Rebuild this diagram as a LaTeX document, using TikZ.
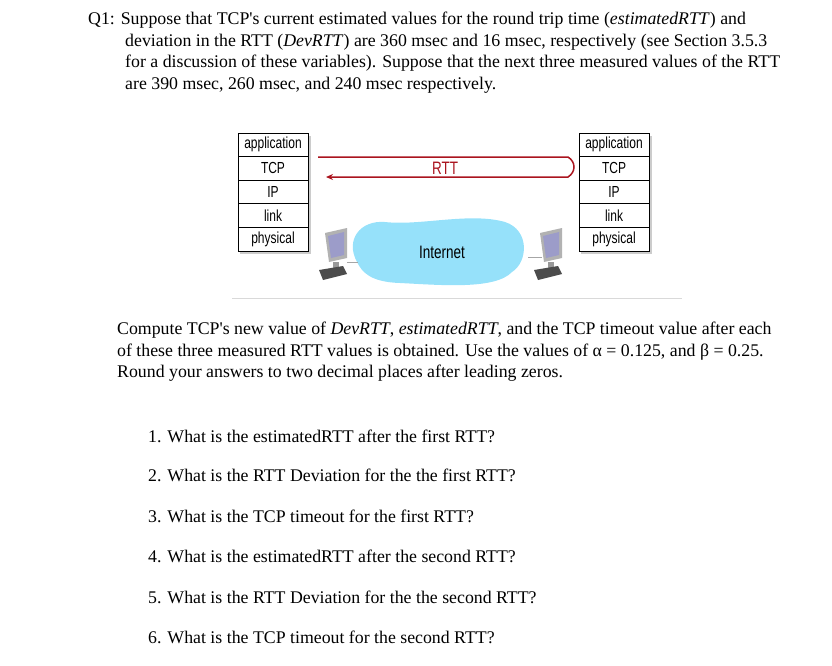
\documentclass[tikz,border=0pt]{standalone}
\usepackage{fontspec}
\setmainfont{Liberation Serif}
\newfontfamily\lsans{Liberation Sans}
\newfontfamily\nsans[FakeStretch=0.75]{Liberation Sans}
\usetikzlibrary{arrows.meta}
\definecolor{rttred}{RGB}{170,20,30}
\definecolor{cloudblue}{RGB}{150,225,250}
\tikzset{
  txt/.style={anchor=west,inner sep=0pt,font=\fontsize{17.8}{19}\selectfont},
  layer/.style={draw,thick,minimum width=70pt,minimum height=23.6pt,inner sep=0pt,font=\nsans\fontsize{16}{17}\selectfont},
}
\begin{document}
\begin{tikzpicture}[x=1pt,y=-1pt]
\useasboundingbox (0,0) rectangle (832,665);
\node[txt] (l1) at (88,20) {Q1: Suppose that TCP\textquotesingle s current estimated values for the round trip time (\textit{estimatedRTT}) and};
\node[txt] (l2) at (125,42) {deviation in the RTT (\textit{DevRTT}) are 360 msec and 16 msec, respectively (see Section 3.5.3};
\node[txt] (l3) at (125,63) {for a discussion of these variables). Suppose that the next three measured values of the RTT};
\node[txt] (l4) at (125,85) {are 390 msec, 260 msec, and 240 msec respectively.};
% stacks
\foreach \s/\x in {L/273,R/614}{
  \foreach \t [count=\i] in {application,TCP,IP,link,physical}{
    \node[layer,fill=white] (\s\i) at (\x,{133+23.6*(\i-0.5)}) {\t};
  }
}
\fill[gray!40] (309,136) rectangle (311,254);
\fill[gray!40] (240,252) rectangle (311,254);
\fill[gray!40] (650,136) rectangle (652,254);
\fill[gray!40] (581,252) rectangle (652,254);
% RTT arrow
\coordinate (a0) at (318,157);
\coordinate (a1) at (568,157);
\coordinate (a2) at (568,177);
\coordinate (a3) at (326,177);
\draw[rttred,line width=1.5pt,-{Stealth[length=7pt,width=6pt]}] (a0) -- (a1) .. controls (576,162) and (576,172) .. (a2) -- (a3);
\node[rttred,font=\nsans\fontsize{18}{19}\selectfont] (rtt) at (445,168) {RTT};
% cloud
\fill[cloudblue] (357,262) .. controls (345,240) and (360,220) .. (385,222)
  .. controls (420,226) and (470,212) .. (505,222)
  .. controls (530,230) and (528,262) .. (512,272)
  .. controls (495,290) and (440,285) .. (400,283)
  .. controls (370,282) and (362,272) .. (357,262) -- cycle;
\node[font=\nsans\fontsize{18}{19}\selectfont] (inet) at (442,252) {Internet};
% computers
\foreach \s/\cx in {A/335,B/550}{
  \fill[gray!60] (\cx-10,233) -- (\cx+12,228) -- (\cx+12,258) -- (\cx-6,262) -- cycle;
  \fill[blue!30!gray!60] (\cx-7,236) -- (\cx+9,232) -- (\cx+9,255) -- (\cx-4,258) -- cycle;
  \fill[gray!80] (\cx-2,262) rectangle (\cx+4,268);
  \fill[black!70] (\cx-16,270) -- (\cx+8,266) -- (\cx+12,274) -- (\cx-12,280) -- cycle;
}
\draw[gray!70] (347,262) -- (358,262);
\draw[gray!70] (528,257) -- (542,257);
\draw[gray!30,line width=1pt] (232,298) -- (682,298);
% paragraph
\node[txt] (c1) at (117,330) {Compute TCP\textquotesingle s new value of \textit{DevRTT}, \textit{estimatedRTT}, and the TCP timeout value after each};
\node[txt] (c2) at (117,352) {of these three measured RTT values is obtained. Use the values of α = 0.125, and β = 0.25.};
\node[txt] (c3) at (117,373) {Round your answers to two decimal places after leading zeros.};
\node[txt] (q1) at (148,436) {1. What is the estimatedRTT after the first RTT?};
\node[txt] (q2) at (148,475) {2. What is the RTT Deviation for the the first RTT?};
\node[txt] (q3) at (148,516) {3. What is the TCP timeout for the first RTT?};
\node[txt] (q4) at (148,556) {4. What is the estimatedRTT after the second RTT?};
\node[txt] (q5) at (148,597) {5. What is the RTT Deviation for the the second RTT?};
\node[txt] (q6) at (148,637) {6. What is the TCP timeout for the second RTT?};
\end{tikzpicture}
\end{document}
